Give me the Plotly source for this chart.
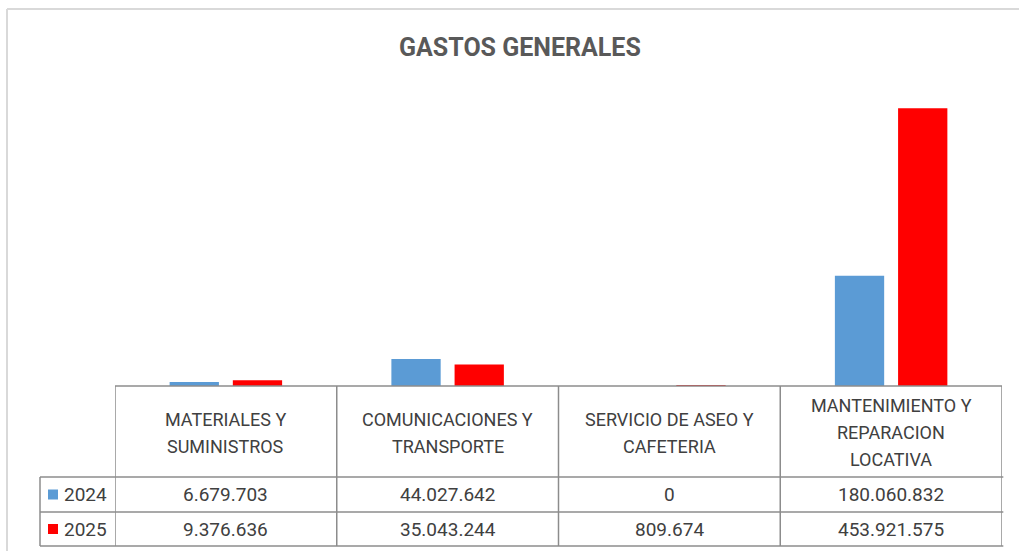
import plotly.graph_objects as go

categories = ["MATERIALES Y<br>SUMINISTROS", "COMUNICACIONES Y<br>TRANSPORTE",
              "SERVICIO DE ASEO Y<br>CAFETERIA", "MANTENIMIENTO Y<br>REPARACION<br>LOCATIVA"]
series_names = ["2024", "2025"]
values_2024 = [6679703, 44027642, 0, 180060832]
values_2025 = [9376636, 35043244, 809674, 453921575]
colors = ["#5B9BD5", "#FF0000"]

W, H = 1019, 551
L, R, T, B = 115, 1002, 80, 386  # plot area in pixels
FONT = "Roboto"
GRID = "#8C8C8C"
TXT = "#404040"


def xp(px):
    return (px - L) / (R - L)


def yp(py):
    return (B - py) / (B - T)


def fmt(v):
    return f"{v:,}".replace(",", ".")


x_idx = list(range(len(categories)))
fig = go.Figure()
for name, vals, col in zip(series_names, [values_2024, values_2025], colors):
    fig.add_trace(go.Bar(x=x_idx, y=vals, name=name, marker=dict(color=col, line=dict(width=0)),
                         hoverinfo="y+name"))

shapes = []
annotations = []

# outer chart border (top + left)
shapes.append(dict(type="line", xref="paper", yref="paper", x0=xp(7), x1=xp(W + 5), y0=yp(9), y1=yp(9),
                   line=dict(color="#D9D9D9", width=2)))
shapes.append(dict(type="line", xref="paper", yref="paper", x0=xp(7), x1=xp(7), y0=yp(9), y1=yp(H + 5),
                   line=dict(color="#D9D9D9", width=2)))

# table geometry (pixels)
row_top = 477
row_mid = 512
row_bot = 546
label_left = 40
n = len(categories)

# horizontal lines
shapes.append(dict(type="line", xref="x", yref="paper", x0=-0.5, x1=n - 0.5, y0=0, y1=0,
                   line=dict(color=GRID, width=1.5)))
for py in [row_top, row_mid, row_bot]:
    shapes.append(dict(type="line", xref="paper", yref="paper", x0=xp(label_left), x1=1.0015,
                       y0=yp(py), y1=yp(py), line=dict(color=GRID, width=1.5)))
# vertical lines
for i in range(n + 1):
    shapes.append(dict(type="line", xref="x", yref="paper", x0=i - 0.5, x1=i - 0.5, y0=0, y1=yp(row_bot),
                       line=dict(color=GRID, width=1.5)))
shapes.append(dict(type="line", xref="paper", yref="paper", x0=xp(label_left), x1=xp(label_left),
                   y0=yp(row_top), y1=yp(row_bot), line=dict(color=GRID, width=1.5)))

# header text (each line separately for Excel-like spacing)
line_h = 27
for i, cat in enumerate(categories):
    lines = cat.split("<br>")
    center = (B + row_top) / 2 + 1
    start = center - (len(lines) - 1) * line_h / 2
    for k, ln in enumerate(lines):
        annotations.append(dict(x=i, y=yp(start + k * line_h), xref="x", yref="paper", text=ln,
                                showarrow=False, font=dict(family=FONT, size=18, color=TXT),
                                xanchor="center", yanchor="middle"))

# data rows
rows = [(row_top, row_mid), (row_mid, row_bot)]
for (y0, y1), name, vals, col in zip(rows, series_names, [values_2024, values_2025], colors):
    cy = (y0 + y1) / 2
    for i, v in enumerate(vals):
        annotations.append(dict(x=i, y=yp(cy), xref="x", yref="paper", text=fmt(v), showarrow=False,
                                font=dict(family=FONT, size=19, color=TXT), xanchor="center", yanchor="middle"))
    shapes.append(dict(type="rect", xref="paper", yref="paper", x0=xp(48), x1=xp(58), y0=yp(cy - 5), y1=yp(cy + 5),
                       fillcolor=col, line=dict(width=0)))
    annotations.append(dict(x=xp(62), y=yp(cy), xref="paper", yref="paper", text=name, showarrow=False,
                            font=dict(family=FONT, size=19, color=TXT), xanchor="left", yanchor="middle"))

# title
annotations.append(dict(x=xp(520), y=yp(48), xref="paper", yref="paper", text="<b>GASTOS GENERALES</b>",
                        showarrow=False, font=dict(family=FONT, size=25, color="#595959"),
                        xanchor="center", yanchor="middle"))

fig.update_layout(
    width=W, height=H,
    margin=dict(l=L, r=W - R, t=T, b=H - B, pad=0),
    paper_bgcolor="white", plot_bgcolor="white",
    showlegend=False,
    barmode="group", bargap=0.43, bargroupgap=0.22,
    xaxis=dict(range=[-0.5, n - 0.5], showticklabels=False, showgrid=False, zeroline=False,
               showline=False, ticks="", fixedrange=True),
    yaxis=dict(range=[0, 500000000], showticklabels=False, showgrid=False, zeroline=False,
               showline=False, ticks="", fixedrange=True),
    shapes=shapes,
    annotations=annotations,
)

fig.write_html("out.html", config={"displayModeBar": False},
               post_script="document.body.style.margin='0px';document.body.style.overflow='hidden';")
